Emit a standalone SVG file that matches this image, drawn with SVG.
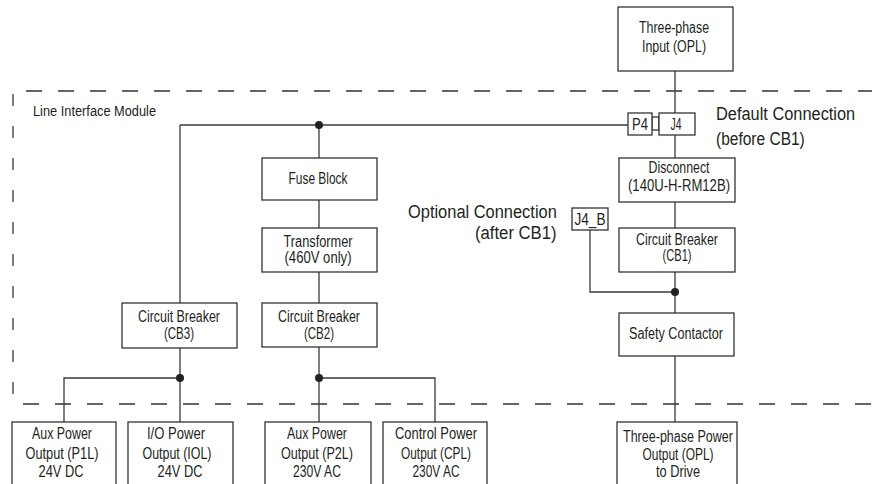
<svg xmlns="http://www.w3.org/2000/svg" width="872" height="484" viewBox="0 0 872 484">
<style>
.box{fill:#fff;stroke:#333;stroke-width:1.3}
.ln{fill:none;stroke:#3a3a3a;stroke-width:1.3}
.dash{fill:none;stroke:#333;stroke-width:1.3;stroke-dasharray:16 16}
.dot{fill:#222}
text{font-family:"Liberation Sans",Arial,sans-serif;fill:#231f20;font-size:16px;text-anchor:middle}
.big{font-size:19px;text-anchor:start}
.lbl{font-size:14px;text-anchor:start}
</style>
<rect width="872" height="484" fill="#fff"/>
<g id="border">
<path class="dash" d="M26,91H872"/>
<path class="dash" d="M23,404H872"/>
<path class="dash" style="stroke-dasharray:12 20" d="M13,94V400"/>
<text class="lbl" x="33" y="116" textLength="123" lengthAdjust="spacingAndGlyphs">Line Interface Module</text>
</g>
<g id="connectors">
<path class="ln" d="M675,71V113M675,135V158M675,202V228M675,272V313M675,356V422"/>
<path class="ln" d="M180,125H628M180,125V303M319,125V158M319,200V228M319,272V303M319,347V422"/>
<path class="ln" d="M180,348V422M64,422V378H180M319,378H435V422"/>
<path class="ln" d="M590,230V292H675"/>
<rect class="box" x="652" y="117" width="7" height="13"/>
<circle class="dot" cx="319" cy="125" r="4"/>
<circle class="dot" cx="180" cy="378" r="4"/>
<circle class="dot" cx="319" cy="378" r="4"/>
<circle class="dot" cx="675" cy="292" r="4"/>
</g>
<g id="opl_in"><rect class="box" x="618" y="7" width="115" height="64"/>
<text x="674" y="33" textLength="70" lengthAdjust="spacingAndGlyphs">Three-phase</text>
<text x="674" y="52" textLength="64" lengthAdjust="spacingAndGlyphs">Input (OPL)</text></g>
<g id="p4"><rect class="box" x="628" y="113" width="24" height="22"/>
<text x="640" y="130" textLength="16" lengthAdjust="spacingAndGlyphs">P4</text></g>
<g id="j4"><rect class="box" x="659" y="113" width="36" height="22"/>
<text x="676" y="130" textLength="11" lengthAdjust="spacingAndGlyphs">J4</text></g>
<g id="default_label">
<text class="big" transform="translate(716,120) scale(0.8,1)" textLength="174" lengthAdjust="spacingAndGlyphs">Default Connection</text>
<text class="big" transform="translate(716,145) scale(0.8,1)" textLength="111" lengthAdjust="spacingAndGlyphs">(before CB1)</text></g>
<g id="disconnect"><rect class="box" x="619" y="158" width="116" height="44"/>
<text x="679" y="173" textLength="61" lengthAdjust="spacingAndGlyphs">Disconnect</text>
<text x="679" y="191" textLength="102" lengthAdjust="spacingAndGlyphs">(140U-H-RM12B)</text></g>
<g id="j4b"><rect class="box" x="572" y="208" width="36" height="22"/>
<text x="590" y="225" textLength="31" lengthAdjust="spacingAndGlyphs">J4_B</text></g>
<g id="cb1"><rect class="box" x="619" y="228" width="116" height="44"/>
<text x="677" y="245" textLength="82" lengthAdjust="spacingAndGlyphs">Circuit Breaker</text>
<text x="677" y="261" textLength="29" lengthAdjust="spacingAndGlyphs">(CB1)</text></g>
<g id="safety"><rect class="box" x="619" y="313" width="115" height="43"/>
<text x="676" y="339" textLength="94" lengthAdjust="spacingAndGlyphs">Safety Contactor</text></g>
<g id="opl_out"><rect class="box" x="617" y="422" width="120" height="70"/>
<text x="678" y="442" textLength="110" lengthAdjust="spacingAndGlyphs">Three-phase Power</text>
<text x="678" y="460" textLength="71" lengthAdjust="spacingAndGlyphs">Output (OPL)</text>
<text x="678" y="477" textLength="44" lengthAdjust="spacingAndGlyphs">to Drive</text></g>
<g id="optional_label">
<text class="big" transform="translate(408,218) scale(0.8,1)" textLength="186" lengthAdjust="spacingAndGlyphs">Optional Connection</text>
<text class="big" transform="translate(475,239) scale(0.8,1)" textLength="102" lengthAdjust="spacingAndGlyphs">(after CB1)</text></g>
<g id="fuse"><rect class="box" x="262" y="158" width="115" height="42"/>
<text x="318" y="184" textLength="59" lengthAdjust="spacingAndGlyphs">Fuse Block</text></g>
<g id="transformer"><rect class="box" x="262" y="228" width="115" height="44"/>
<text x="318" y="247" textLength="69" lengthAdjust="spacingAndGlyphs">Transformer</text>
<text x="318" y="263" textLength="67" lengthAdjust="spacingAndGlyphs">(460V only)</text></g>
<g id="cb2"><rect class="box" x="262" y="303" width="115" height="44"/>
<text x="319" y="322" textLength="82" lengthAdjust="spacingAndGlyphs">Circuit Breaker</text>
<text x="319" y="339" textLength="30" lengthAdjust="spacingAndGlyphs">(CB2)</text></g>
<g id="cb3"><rect class="box" x="122" y="303" width="115" height="45"/>
<text x="179" y="322" textLength="82" lengthAdjust="spacingAndGlyphs">Circuit Breaker</text>
<text x="179" y="339" textLength="30" lengthAdjust="spacingAndGlyphs">(CB3)</text></g>
<g id="p1l"><rect class="box" x="12" y="422" width="104" height="70"/>
<text x="62" y="439" textLength="60" lengthAdjust="spacingAndGlyphs">Aux Power</text>
<text x="62" y="459" textLength="73" lengthAdjust="spacingAndGlyphs">Output (P1L)</text>
<text x="61" y="477" textLength="45" lengthAdjust="spacingAndGlyphs">24V DC</text></g>
<g id="iol"><rect class="box" x="128" y="422" width="105" height="70"/>
<text x="176" y="439" textLength="58" lengthAdjust="spacingAndGlyphs">I/O Power</text>
<text x="177" y="459" textLength="69" lengthAdjust="spacingAndGlyphs">Output (IOL)</text>
<text x="180" y="477" textLength="45" lengthAdjust="spacingAndGlyphs">24V DC</text></g>
<g id="p2l"><rect class="box" x="265" y="422" width="106" height="70"/>
<text x="317" y="439" textLength="60" lengthAdjust="spacingAndGlyphs">Aux Power</text>
<text x="317" y="459" textLength="72" lengthAdjust="spacingAndGlyphs">Output (P2L)</text>
<text x="317" y="477" textLength="48" lengthAdjust="spacingAndGlyphs">230V AC</text></g>
<g id="cpl"><rect class="box" x="383" y="422" width="104" height="70"/>
<text x="436" y="439" textLength="82" lengthAdjust="spacingAndGlyphs">Control Power</text>
<text x="436" y="459" textLength="70" lengthAdjust="spacingAndGlyphs">Output (CPL)</text>
<text x="436" y="477" textLength="47" lengthAdjust="spacingAndGlyphs">230V AC</text></g>
</svg>
